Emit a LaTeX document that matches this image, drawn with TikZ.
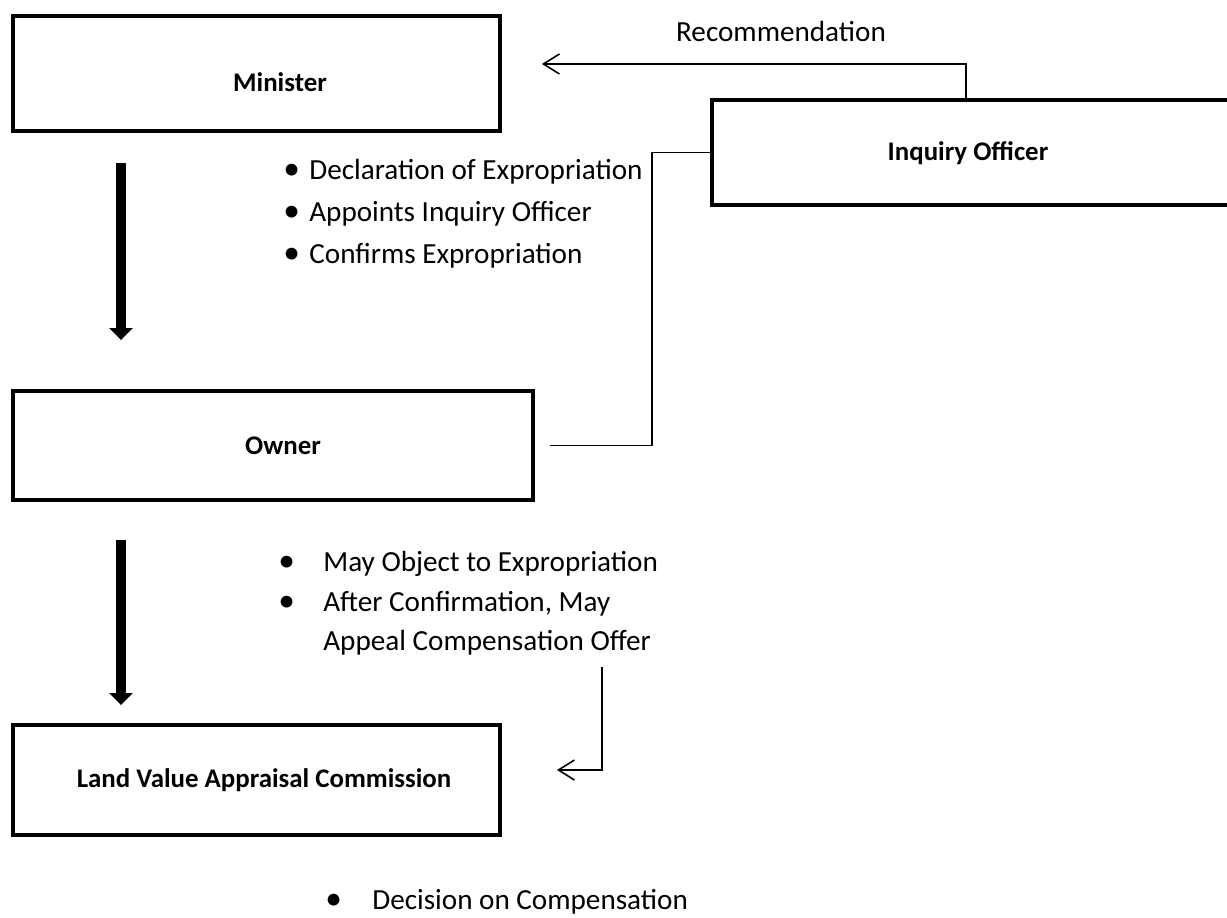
\documentclass[tikz,border=0pt]{standalone}
\usepackage{fontspec}
\setmainfont{Carlito}
\usetikzlibrary{arrows.meta}
\newcommand{\itm}[2]{\makebox[#1][l]{\fontsize{19}{20}\selectfont •}#2}
\tikzset{
  stage/.style={draw, line width=0.08cm, inner sep=0pt},
  title/.style={font=\fontsize{15.3}{18}\selectfont\bfseries},
  link/.style={line width=0.9pt},
  flow/.style={line width=0.2cm, -{Triangle[width=0.46cm,length=0.24cm]}},
  item/.style={anchor=base west, inner sep=0pt}
}
\begin{document}
\begin{tikzpicture}[x=0.02cm, y=-0.02cm, font=\fontsize{16.6}{20}\selectfont]
  \useasboundingbox (0,0) rectangle (1227,918);
  % boxes
  \node[stage, minimum width=9.74cm, minimum height=2.3cm] (minister) at (256.5,73.5) {};
  \node[stage, minimum width=10.56cm, minimum height=2.1cm] (inquiry) at (976,152.5) {};
  \node[stage, minimum width=10.4cm, minimum height=2.18cm] (owner) at (273,445.5) {};
  \node[stage, minimum width=9.74cm, minimum height=2.2cm] (lvac) at (256.5,780) {};
  \node[title] (ministername) at (280,82) {Minister};
  \node[title] (inquiryname) at (968,153) {Inquiry Officer};
  \node[title] (ownername) at (283,446) {Owner};
  \node[title] (lvacname) at (264,780) {Land Value Appraisal Commission};
  % bullet lists
  \node[item] (decl) at (283,180) {\itm{0.52cm}{Declaration of Expropriation}};
  \node[item] (appoint) at (283,222) {\itm{0.52cm}{Appoints Inquiry Officer}};
  \node[item] (confirm) at (283,264) {\itm{0.52cm}{Confirms Expropriation}};
  \node[item] (object) at (278,571) {\itm{0.9cm}{May Object to Expropriation}};
  \node[item] (afterconf) at (278,611) {\itm{0.9cm}{After Confirmation, May}};
  \node[item] (appeal) at (323,650) {Appeal Compensation Offer};
  \node[item] (decision) at (325,909) {\itm{0.94cm}{Decision on Compensation}};
  \node[anchor=base, inner sep=0pt] (reclabel) at (781,42) {Recommendation};
  % connectors
  \coordinate (bend) at (966,64);
  \coordinate (joint) at (652,152.5);
  \coordinate (drop) at (602,667);
  \draw[link, -{Straight Barb[length=0.32cm,width=0.4cm]}, shorten >=0.8cm]
    (bend |- inquiry.north) -- (bend) -- (bend -| minister.east);
  \draw[link, shorten <=0.3cm] (owner.east) -| (joint) -- (inquiry.west);
  \draw[link, -{Straight Barb[length=0.32cm,width=0.4cm]}, shorten >=1.1cm]
    (drop) |- ([yshift=0.2cm]lvac.east);
  \draw[flow, shorten <=0.6cm, shorten >=0.98cm]
    ([xshift=2.2cm]minister.south west) -- ([xshift=2.2cm]minister.south west |- owner.north);
  \draw[flow, shorten <=0.76cm, shorten >=0.36cm]
    ([xshift=2.2cm]owner.south west) -- ([xshift=2.2cm]owner.south west |- lvac.north);
\end{tikzpicture}
\end{document}
